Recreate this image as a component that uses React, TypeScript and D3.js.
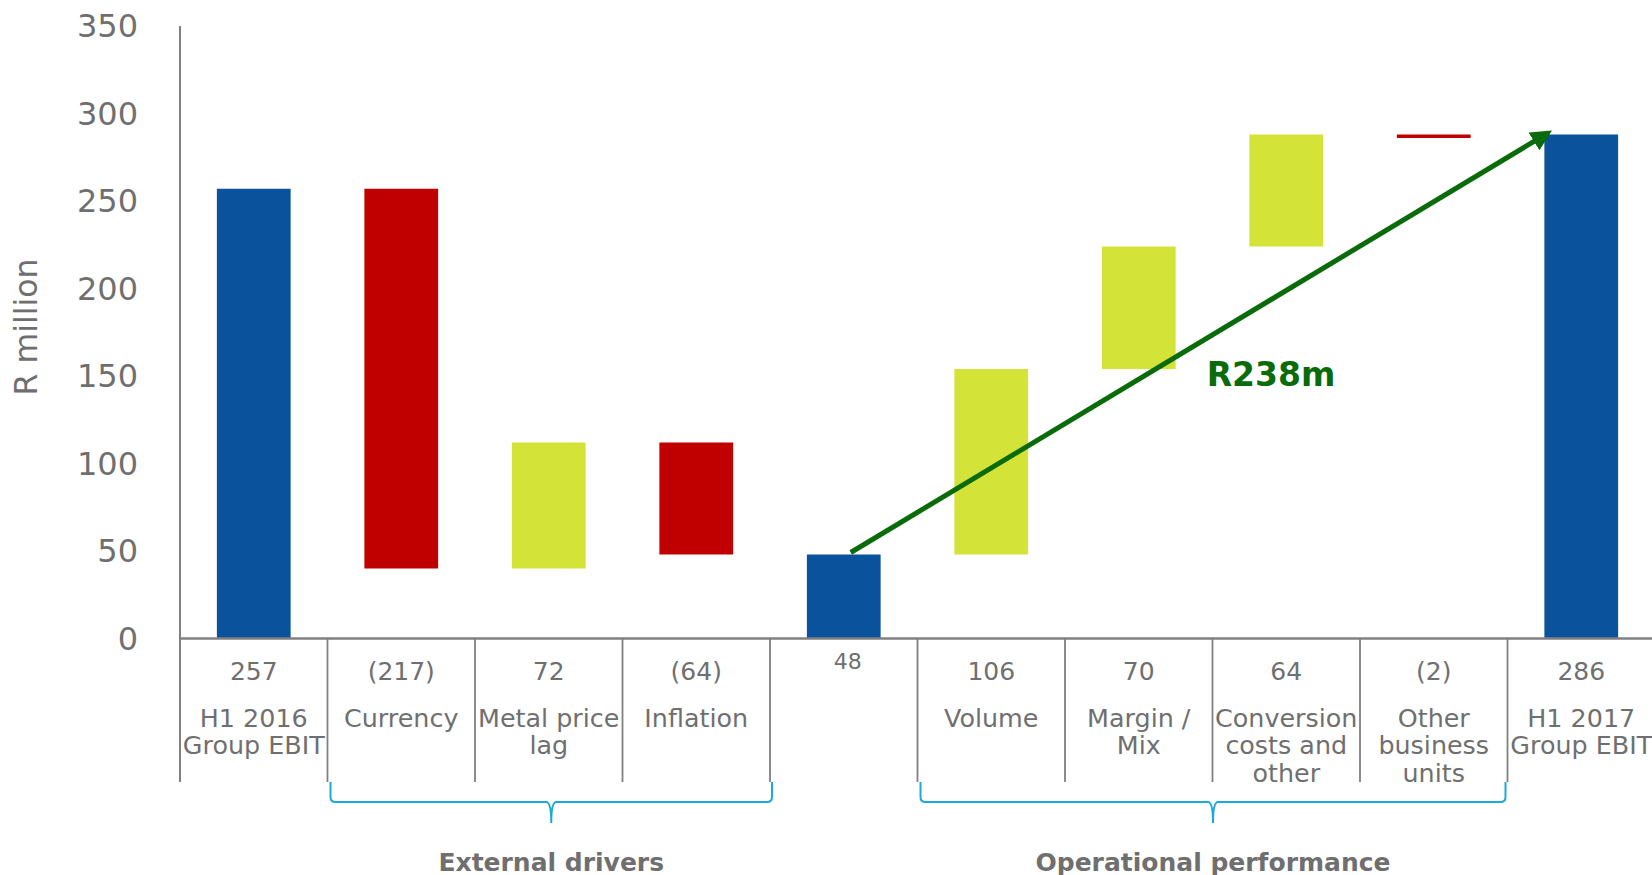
import React from "react";
import * as d3 from "d3";

const categories = ["H1 2016 Group EBIT", "Currency", "Metal price lag", "Inflation", "Subtotal", "Volume", "Margin / Mix", "Conversion costs and other", "Other business units", "H1 2017 Group EBIT"];
const labelLines: string[][] = [
  ["H1 2016", "Group EBIT"],
  ["Currency"],
  ["Metal price", "lag"],
  ["Inflation"],
  [],
  ["Volume"],
  ["Margin /", "Mix"],
  ["Conversion", "costs and", "other"],
  ["Other", "business", "units"],
  ["H1 2017", "Group EBIT"],
];
const deltas = [257, -217, 72, -64, 48, 106, 70, 64, -2, 288];
const kinds = ["total", "delta", "delta", "delta", "total", "delta", "delta", "delta", "delta", "total"];
const valueLabels = ["257", "(217)", "72", "(64)", "48", "106", "70", "64", "(2)", "286"];
const yTicks = [0, 50, 100, 150, 200, 250, 300, 350];
const groups = [
  { label: "External drivers", from: 1, to: 3 },
  { label: "Operational performance", from: 5, to: 8 },
];
const arrowLabel = "R238m";

const W = 1652;
const H = 875;
const GRAY = "#6f6f6f";
const AXIS = "#808080";
const BLUE = "#0b529c";
const RED = "#c00000";
const LIME = "#d3e337";
const GREEN = "#096b09";
const CYAN = "#1aa9da";
const FONT = "'DejaVu Sans', Verdana, sans-serif";

export default function App() {
  const x = d3.scaleBand<number>().domain(d3.range(categories.length)).range([180, 1655]).paddingInner(0).paddingOuter(0);
  const y = d3.scaleLinear().domain([0, 350]).range([638.5, 26]);
  const bw = x.bandwidth() * 0.5;

  let running = 0;
  const segs = deltas.map((d, i) => {
    let lo: number, hi: number, color: string;
    if (kinds[i] === "total") {
      lo = 0; hi = d; running = d; color = BLUE;
    } else {
      const start = running;
      running = running + d;
      lo = Math.min(start, running); hi = Math.max(start, running);
      color = d < 0 ? RED : LIME;
    }
    return { i, lo, hi, color };
  });

  const baseY = y(0);
  const sepBottom = 782;

  const ax0 = (x(4) as number) + x.bandwidth() / 2 + 7;
  const ay0 = y(deltas[4]) - 2;
  const ax1 = (x(9) as number) + x.bandwidth() / 4 + 4;
  const ay1 = y(289);

  return (
    <svg width={W} height={H} style={{ position: "absolute", left: 0, top: 0, background: "#fff" }} fontFamily={FONT}>
      <defs>
        <marker id="ah" viewBox="0 0 10 10" refX="8" refY="5" markerWidth="4.2" markerHeight="4.2" orient="auto" markerUnits="strokeWidth">
          <path d="M0,0 L10,5 L0,10 z" fill={GREEN} />
        </marker>
      </defs>

      {yTicks.map((t) => (
        <text key={t} x={138} y={y(t)} textAnchor="end" dominantBaseline="central" fontSize={32} fill={GRAY}>
          {t}
        </text>
      ))}
      <text transform={`translate(26,327) rotate(-90)`} textAnchor="middle" dominantBaseline="central" fontSize={31.5} fill={GRAY}>
        R million
      </text>

      {segs.map((s) => (
        <rect
          key={s.i}
          x={(x(s.i) as number) + (x.bandwidth() - bw) / 2}
          y={y(s.hi)}
          width={bw}
          height={Math.max(3.5, y(s.lo) - y(s.hi))}
          fill={s.color}
        />
      ))}

      <line x1={180} x2={180} y1={26} y2={sepBottom} stroke={AXIS} strokeWidth={2} />
      <line x1={180} x2={W} y1={baseY} y2={baseY} stroke={AXIS} strokeWidth={2.5} />
      {d3.range(1, categories.length).map((i) => (
        <line key={i} x1={x(i) as number} x2={x(i) as number} y1={baseY} y2={sepBottom} stroke={AXIS} strokeWidth={1.8} />
      ))}

      {valueLabels.map((v, i) => (
        <text
          key={i}
          x={(x(i) as number) + x.bandwidth() / 2 + (i === 4 ? 4 : 0)}
          y={i === 4 ? 661 : 671}
          textAnchor="middle"
          dominantBaseline="central"
          fontSize={i === 4 ? 22 : 25}
          fill={GRAY}
        >
          {v}
        </text>
      ))}

      {labelLines.map((lines, i) =>
        lines.map((ln, j) => (
          <text
            key={`${i}-${j}`}
            x={(x(i) as number) + x.bandwidth() / 2}
            y={717.5 + j * 27.5}
            textAnchor="middle"
            dominantBaseline="central"
            fontSize={25.4}
            fill={GRAY}
          >
            {ln}
          </text>
        ))
      )}

      {groups.map((g) => {
        const x0 = (x(g.from) as number) + 3;
        const x1 = (x(g.to) as number) + x.bandwidth() + (g.from === 1 ? 2 : -2);
        const cx = (x0 + x1) / 2;
        const top = sepBottom;
        const mid = 802;
        const bot = 823;
        const r = 5;
        const d = `M${x0},${top} L${x0},${mid - r} Q${x0},${mid} ${x0 + r},${mid} L${cx - r},${mid} Q${cx},${mid} ${cx},${bot} Q${cx},${mid} ${cx + r},${mid} L${x1 - r},${mid} Q${x1},${mid} ${x1},${mid - r} L${x1},${top}`;
        return (
          <g key={g.label}>
            <path d={d} fill="none" stroke={CYAN} strokeWidth={2} />
            <text x={cx} y={862} textAnchor="middle" dominantBaseline="central" fontSize={25} fontWeight="bold" fill={GRAY}>
              {g.label}
            </text>
          </g>
        );
      })}

      <line x1={ax0} y1={ay0} x2={ax1} y2={ay1} stroke={GREEN} strokeWidth={5} markerEnd="url(#ah)" />
      <text x={1271} y={374} textAnchor="middle" dominantBaseline="central" fontSize={33} fontWeight="bold" fill={GREEN}>
        {arrowLabel}
      </text>
    </svg>
  );
}
